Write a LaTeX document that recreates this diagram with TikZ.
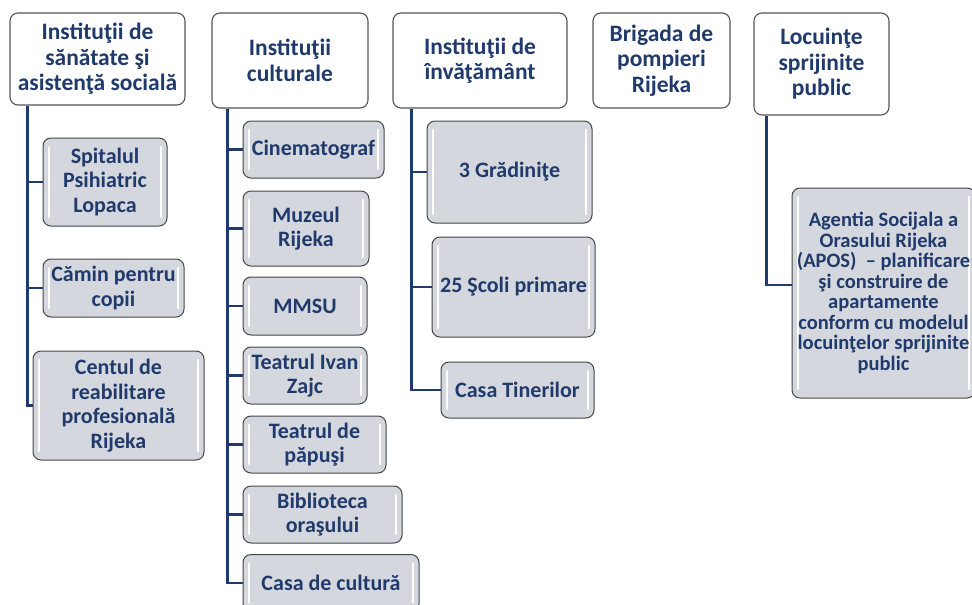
\documentclass[tikz,border=0pt]{standalone}
\usepackage{fontspec}
\setmainfont{Carlito}
\usetikzlibrary{calc}

\definecolor{navy}{RGB}{32,58,108}
\definecolor{leafgray}{RGB}{212,215,222}
\definecolor{headline}{RGB}{85,85,85}
\definecolor{leafline}{RGB}{70,70,70}

\begin{document}
\begin{tikzpicture}[x=1pt, y=-1pt,
    head/.style={draw=headline, fill=white, rounded corners=8pt, line width=1.1pt, align=center, text=navy, inner sep=0pt, font=\bfseries\fontsize{23.5}{25.5}\selectfont},
    leaf/.style={draw=leafline, fill=leafgray, rounded corners=8pt, line width=1pt, align=center, text=navy, inner sep=0pt, font=\bfseries\fontsize{22}{24.5}\selectfont,
        path picture={
            \draw[white, line width=2.5pt, line cap=round]
                ($(path picture bounding box.north west)+(6,9)$) -- ($(path picture bounding box.south west)+(6,-9)$)
                ($(path picture bounding box.north east)+(-6,9)$) -- ($(path picture bounding box.south east)+(-6,-9)$);
        }},
    conn/.style={draw=navy, line width=2.6pt}
]
    \clip (0,0) rectangle (972,605);

    % top level
    \node[head, minimum width=175pt, minimum height=92pt] (san) at (97.5,59) {Instituţii de\\sănătate şi\\asistenţă socială};
    \node[head, minimum width=156pt, minimum height=95pt] (cult) at (290,60.5) {Instituţii\\culturale};
    \node[head, minimum width=174pt, minimum height=95pt] (inv) at (480,60.5) {Instituţii de\\învăţământ};
    \node[head, minimum width=137pt, minimum height=95pt] (pomp) at (661.5,60.5) {Brigada de\\pompieri\\Rijeka};
    \node[head, minimum width=135pt, minimum height=102pt] (loc) at (821.5,64) {Locuinţe\\sprijinite\\public};

    % health and social care
    \node[leaf, minimum width=124pt, minimum height=88pt] (spit) at (105,182) {Spitalul\\Psihiatric\\Lopaca};
    \node[leaf, minimum width=141pt, minimum height=58pt] (camin) at (113.5,288) {Cămin pentru\\copii};
    \node[leaf, minimum width=171pt, minimum height=109pt] (centul) at (118.5,405.5) {Centul de\\reabilitare\\profesională\\Rijeka};

    % culture
    \node[leaf, minimum width=141pt, minimum height=57pt] (cinema) at (313.5,149.5) {Cinematograf};
    \node[leaf, minimum width=126pt, minimum height=75pt] (muzeu) at (306,228.5) {Muzeul\\Rijeka};
    \node[leaf, minimum width=124pt, minimum height=58pt] (mmsu) at (305,306) {MMSU};
    \node[leaf, minimum width=124pt, minimum height=57pt] (ivan) at (305,375.5) {Teatrul Ivan\\Zajc};
    \node[leaf, minimum width=143pt, minimum height=57pt] (papusi) at (314.5,444.5) {Teatrul de\\păpuşi};
    \node[leaf, minimum width=159pt, minimum height=57pt] (biblio) at (322.5,514.5) {Biblioteca\\oraşului};
    \node[leaf, minimum width=176pt, minimum height=57pt] (casacult) at (331,583) {Casa de cultură};

    % education
    \node[leaf, minimum width=165pt, minimum height=102pt] (grad) at (509.5,172) {3 Grădiniţe};
    \node[leaf, minimum width=163pt, minimum height=100pt] (scoli) at (513.5,287) {25 Şcoli primare};
    \node[leaf, minimum width=153pt, minimum height=56pt] (tiner) at (517.5,390) {Casa Tinerilor};

    % housing
    \node[leaf, minimum width=183pt, minimum height=210pt, font=\bfseries\fontsize{20.5}{20.5}\selectfont] (apos) at (883.5,293)
        {Agentia Socijala a\\Orasului Rijeka\\(APOS)\ \ – planificare\\şi construire de\\apartamente\\conform cu modelul\\locuinţelor sprijinite\\public};

    % connectors
    \coordinate (sanbus) at ($(san.south west)+(18,0)$);
    \coordinate (cultbus) at ($(cult.south west)+(16,0)$);
    \coordinate (invbus) at ($(inv.south west)+(19,0)$);
    \coordinate (locbus) at ($(loc.south west)+(13,0)$);

    \foreach \c in {spit, camin, centul}
        \draw[conn] (sanbus) |- (\c.west);
    \foreach \c in {cinema, muzeu, mmsu, ivan, papusi, biblio, casacult}
        \draw[conn] (cultbus) |- (\c.west);
    \foreach \c in {grad, scoli, tiner}
        \draw[conn] (invbus) |- (\c.west);
    \draw[conn] (locbus) |- ($(apos.west)+(0,-8)$);
\end{tikzpicture}
\end{document}
